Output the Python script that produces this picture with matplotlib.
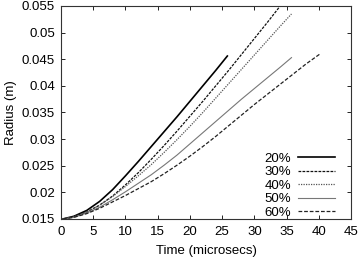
import matplotlib
matplotlib.use("Agg")
import matplotlib.pyplot as plt

plt.rcParams['font.family'] = ['Liberation Sans', 'DejaVu Sans']

labels = ["20%", "30%", "40%", "50%", "60%"]

t20 = [0.3, 2, 4, 6, 8, 10, 12, 14, 16, 18, 20, 22, 24, 25.8]
r20 = [0.0150, 0.0155, 0.0166, 0.0183, 0.0205, 0.0231, 0.0258, 0.0286, 0.0314, 0.0342, 0.0371, 0.0400, 0.0429, 0.0456]

t30 = [0.3, 2, 4, 6, 8, 10, 12, 14, 16, 18, 20, 22, 24, 26, 28, 30, 32, 34]
r30 = [0.0150, 0.0154, 0.0163, 0.0176, 0.0193, 0.0214, 0.0237, 0.0262, 0.0288, 0.0315, 0.0343, 0.0371, 0.0400, 0.0429, 0.0459, 0.0489, 0.0519, 0.0550]

t40 = [0.3, 2, 4, 6, 8, 10, 12, 14, 16, 18, 20, 22, 24, 26, 28, 30, 32, 34, 35.75]
r40 = [0.0150, 0.0154, 0.0163, 0.0176, 0.0192, 0.0211, 0.0231, 0.0252, 0.0275, 0.0299, 0.0324, 0.0350, 0.0377, 0.0404, 0.0431, 0.0458, 0.0485, 0.0512, 0.0535]

t50 = [0.3, 2, 4, 6, 8, 10, 12, 14, 16, 18, 20, 22, 24, 26, 28, 30, 32, 34, 35.75]
r50 = [0.0150, 0.0153, 0.0161, 0.0172, 0.0186, 0.0201, 0.0217, 0.0233, 0.0251, 0.0270, 0.0291, 0.0312, 0.0333, 0.0354, 0.0375, 0.0395, 0.0415, 0.0435, 0.0453]

t60 = [0.3, 2, 4, 6, 8, 10, 12, 14, 16, 18, 20, 22, 24, 26, 28, 30, 32, 34, 36, 38, 40.3]
r60 = [0.0150, 0.0153, 0.0160, 0.0170, 0.0182, 0.0194, 0.0207, 0.0220, 0.0235, 0.0251, 0.0268, 0.0286, 0.0305, 0.0325, 0.0345, 0.0365, 0.0384, 0.0403, 0.0422, 0.0441, 0.0461]

xticks = [0, 5, 10, 15, 20, 25, 30, 35, 40, 45]
yticks = [0.015, 0.02, 0.025, 0.03, 0.035, 0.04, 0.045, 0.05, 0.055]
ytick_labels = ["0.015", "0.02", "0.025", "0.03", "0.035", "0.04", "0.045", "0.05", "0.055"]

FS = 9.5

fig = plt.figure(figsize=(3.59, 2.60), dpi=100)
ax = fig.add_axes([0.170, 0.158, 0.808, 0.819])

ax.plot(t20, r20, color="black", lw=1.2, ls="-", label=labels[0])
ax.plot(t30, r30, color="#111111", lw=0.9, dashes=(2.2, 1.0), label=labels[1])
ax.plot(t40, r40, color="#555555", lw=0.9, dashes=(1.0, 1.0), label=labels[2])
ax.plot(t50, r50, color="#777777", lw=0.8, ls="-", label=labels[3])
ax.plot(t60, r60, color="#222222", lw=0.9, dashes=(3.0, 1.5), label=labels[4])

ax.set_xlim(0, 45)
ax.set_ylim(0.015, 0.055)
ax.set_xticks(xticks)
ax.set_yticks(yticks)
ax.set_yticklabels(ytick_labels)
ax.tick_params(direction="in", top=True, right=True, length=3, width=0.6, labelsize=FS)
ax.tick_params(axis="x", pad=5)
ax.tick_params(axis="y", pad=4.5)
for s in ax.spines.values():
    s.set_linewidth(0.8)
    s.set_color("#333333")

ax.set_xlabel("Time (microsecs)", fontsize=FS, labelpad=5)
ax.set_ylabel("Radius (m)", fontsize=FS, labelpad=3.5)

leg = ax.legend(loc="lower right", bbox_to_anchor=(0.955, -0.012), markerfirst=False,
                frameon=False, fontsize=FS, handlelength=2.8, handletextpad=0.55,
                labelspacing=0.1, borderpad=0.2, borderaxespad=0.0)
for t in leg.get_texts():
    t.set_ha("right")

fig.savefig("out.png", dpi=100)
